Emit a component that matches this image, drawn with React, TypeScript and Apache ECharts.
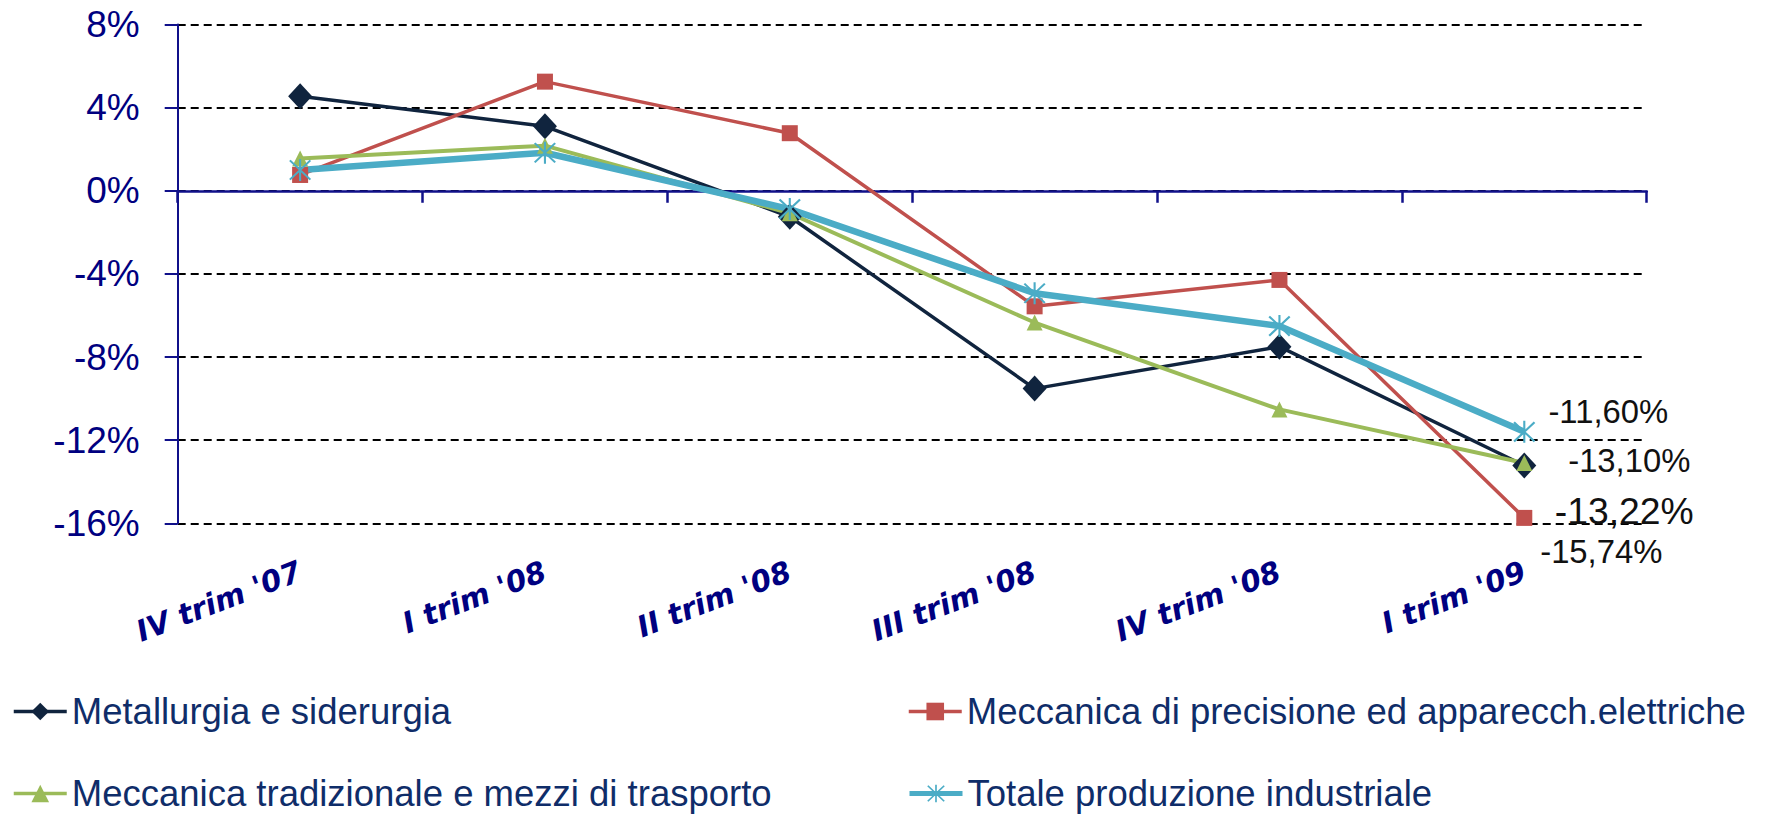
import React, { useEffect, useRef } from "react";
import * as echarts from "echarts";

const categories = ["IV trim '07", "I trim '08", "II trim '08", "III trim '08", "IV trim '08", "I trim '09"];
const seriesNames = [
  "Metallurgia e siderurgia",
  "Meccanica di precisione ed apparecch.elettriche",
  "Meccanica tradizionale e mezzi di trasporto",
  "Totale produzione industriale",
];
const metallurgia = [4.55, 3.1, -1.25, -9.52, -7.5, -13.22];
const precisione = [0.76, 5.25, 2.77, -5.56, -4.29, -15.74];
const tradizionale = [1.55, 2.17, -1.08, -6.34, -10.52, -13.1];
const totale = [1.0, 1.83, -0.88, -4.93, -6.51, -11.6];
const yTicks = { min: -16, max: 8, interval: 4 };

const ASTERISK =
  "path://M9.1 0 L10.9 0 L10.9 20 L9.1 20 Z M0.6 1.9 L1.9 0.6 L19.4 18.1 L18.1 19.4 Z M18.1 0.6 L19.4 1.9 L1.9 19.4 L0.6 18.1 Z";

const fmt = (v: number) => v.toFixed(2).replace(".", ",") + "%";

export default function App() {
  const ref = useRef<HTMLDivElement>(null);
  useEffect(() => {
    if (!ref.current) return;
    const chart = echarts.init(ref.current, null, { renderer: "svg" });
    const sans = "'Liberation Sans', Arial, sans-serif";
    const mk = (
      name: string,
      values: number[],
      color: string,
      width: number,
      symbol: string,
      symbolSize: number | number[],
      lbl: { offset: number[]; size: number }
    ) => ({
      name,
      type: "line",
      xAxisIndex: 0,
      data: values.map((v, i) =>
        i === values.length - 1
          ? {
              value: v,
              label: {
                show: true,
                position: "inside",
                offset: lbl.offset,
                align: "center",
                verticalAlign: "middle",
                formatter: () => fmt(v),
                fontSize: lbl.size,
                fontFamily: sans,
                color: "#111111",
              },
            }
          : v
      ),
      symbol,
      symbolSize,
      symbolKeepAspect: false,
      showAllSymbol: true,
      lineStyle: { color, width },
      itemStyle: { color, borderWidth: 0 },
      emphasis: { disabled: true },
    });
    const legendBase = (name: string, left: number, top: number, lw: number) => ({
      data: [name],
      left,
      top,
      padding: 0,
      itemGap: 0,
      itemWidth: 53,
      itemHeight: 22,
      selectedMode: false,
      lineStyle: { width: lw },
      textStyle: { fontSize: 36.5, fontFamily: sans, color: "#0f2d69", padding: [0, 0, 0, 0] },
    });
    chart.setOption({
      animation: false,
      backgroundColor: "#ffffff",
      grid: { left: 177.7, right: 118.3, top: 24.5, bottom: 291.7, containLabel: false },
      legend: [
        legendBase(seriesNames[0], 12, 693, 3.5),
        legendBase(seriesNames[1], 907, 693, 3.5),
        legendBase(seriesNames[2], 12, 775, 3.5),
        legendBase(seriesNames[3], 907, 775, 5),
      ],
      xAxis: [
        {
          type: "category",
          data: categories,
          position: "bottom",
          boundaryGap: true,
          axisLine: { show: false, onZero: false },
          axisTick: { show: false },
          axisLabel: {
            rotate: 21,
            margin: 47,
            fontSize: 29.5,
            fontFamily: "'DejaVu Sans', sans-serif",
            fontWeight: "bold",
            fontStyle: "italic",
            color: "#000080",
          },
          splitLine: { show: false },
        },
        {
          type: "category",
          data: categories,
          position: "bottom",
          boundaryGap: true,
          axisLine: { show: true, onZero: true, lineStyle: { color: "#10108a", width: 2.5 } },
          axisTick: { show: true, length: 12, lineStyle: { color: "#10108a", width: 2.5 } },
          axisLabel: { show: false },
          splitLine: { show: false },
        },
      ],
      yAxis: {
        type: "value",
        min: yTicks.min,
        max: yTicks.max,
        interval: yTicks.interval,
        axisLine: { show: true, lineStyle: { color: "#10108a", width: 2 } },
        axisTick: { show: true, length: 13, lineStyle: { color: "#10108a", width: 2 } },
        axisLabel: {
          margin: 38,
          fontSize: 37,
          fontFamily: sans,
          color: "#000080",
          formatter: (v: number) => `${v}%`,
        },
        splitLine: { show: true, lineStyle: { color: "#000000", type: [8, 5], width: 2 } },
      },
      series: [
        mk(seriesNames[0], metallurgia, "#10243e", 3.5, "diamond", [24, 26], { offset: [100, 45], size: 37.3 }),
        mk(seriesNames[1], precisione, "#c0504d", 3.5, "rect", 16, { offset: [77, 34], size: 32.8 }),
        mk(seriesNames[2], tradizionale, "#9bbb59", 4, "triangle", 16, { offset: [105, -3], size: 32.8 }),
        mk(seriesNames[3], totale, "#4bacc6", 6.5, ASTERISK, 22, { offset: [84, -20], size: 32.8 }),
      ],
    });
    return () => chart.dispose();
  }, []);
  return (
    <div
      ref={ref}
      style={{ position: "absolute", left: 0, top: 0, width: 1765, height: 815, background: "#fff" }}
    />
  );
}
